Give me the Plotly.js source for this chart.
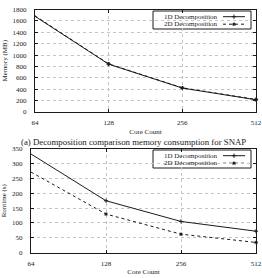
<!DOCTYPE html>
<html>
<head>
<meta charset="utf-8">
<script src="https://cdn.plot.ly/plotly-3.0.1.min.js"></script>
<style>
  html, body { margin: 0; padding: 0; background: #fff; }
  #chart { width: 262px; height: 278px; }
</style>
</head>
<body>
<div id="chart"></div>
<script>
// Core counts on the shared x axis
const cores = [64, 128, 256, 512];
const coreTicks = ['64', '128', '256', '512'];

// (a) memory consumption, MB
const mem1D = [1680, 840, 420, 215];
const mem2D = [1690, 845, 425, 220];

// (b) runtime, seconds
const rt1D = [333, 175, 105, 72];
const rt2D = [272, 130, 62, 34];

const seriesNames = ['1D Decomposition', '2D Decomposition'];
const memTicks = [0, 200, 400, 600, 800, 1000, 1200, 1400, 1600, 1800];
const rtTicks = [0, 50, 100, 150, 200, 250, 300, 350];

const caption = '(a) Decomposition comparison memory consumption for SNAP';
const xTitle = 'Core Count';
const memTitle = 'Memory (MB)';
const rtTitle = 'Runtime (s)';

const W = 262, H = 278;
const serif = 'Liberation Serif, Times New Roman, serif';
const ink = '#1a1a1a';

const style1D = { line: { color: ink, width: 1, dash: 'solid' },
                  marker: { symbol: 'cross-thin', size: 3, color: ink, line: { color: ink, width: 1 } } };
const style2D = { line: { color: ink, width: 1, dash: 'dot' },
                  marker: { symbol: 'asterisk', size: 3, color: ink, line: { color: ink, width: 1 } } };

function trace(y, style, xa, ya, name) {
  return { x: cores, y: y, name: name, type: 'scatter', mode: 'lines+markers',
           xaxis: xa, yaxis: ya, line: style.line, marker: style.marker,
           showlegend: false, cliponaxis: false };
}

const data = [
  trace(mem1D, style1D, 'x', 'y', seriesNames[0]),
  trace(mem2D, style2D, 'x', 'y', seriesNames[1]),
  trace(rt1D, style1D, 'x2', 'y2', seriesNames[0]),
  trace(rt2D, style2D, 'x2', 'y2', seriesNames[1])
];

// pixel helpers for paper coordinates
const px = v => v / W;
const py = v => 1 - v / H;

function xAxis(domain, anchor) {
  return {
    type: 'log', domain: domain, anchor: anchor,
    range: [Math.log10(cores[0]), Math.log10(cores[cores.length - 1])],
    tickvals: cores, ticktext: coreTicks,
    ticks: 'inside', ticklen: 3, tickcolor: ink, tickwidth: 1,
    showline: true, linecolor: ink, linewidth: 1, mirror: 'ticks',
    showgrid: true, gridcolor: '#c4c4c4', gridwidth: 1, griddash: 'dot',
    zeroline: false, ticklabelstandoff: 4,
    tickfont: { family: serif, size: 7, color: ink },
    title: { text: xTitle, font: { family: serif, size: 7, color: ink }, standoff: 2 },
    automargin: false, fixedrange: true
  };
}

function yAxis(domain, anchor, ticks, title, standoff) {
  return {
    domain: domain, anchor: anchor,
    range: [ticks[0], ticks[ticks.length - 1]],
    tickvals: ticks,
    ticks: 'inside', ticklen: 3, tickcolor: ink, tickwidth: 1,
    showline: true, linecolor: ink, linewidth: 1, mirror: 'ticks',
    showgrid: true, gridcolor: '#c4c4c4', gridwidth: 1, griddash: 'dot',
    zeroline: false, ticklabelstandoff: 6,
    tickfont: { family: serif, size: 7, color: ink },
    title: { text: title, font: { family: serif, size: 7, color: ink }, standoff: standoff },
    automargin: false, fixedrange: true
  };
}

// Legend drawn as text + line samples in the upper right of each panel
const annotations = [];
const shapes = [];
const legendMarkers = [];
function addLegend(top, styles) {
  const box = { x0: 153, x1: 251, y0: top, y1: top + 18 };
  shapes.push({ type: 'rect', xref: 'paper', yref: 'paper',
                x0: px(box.x0), x1: px(box.x1), y0: py(box.y0), y1: py(box.y1),
                line: { color: ink, width: 1 }, fillcolor: '#fff', layer: 'between' });
  seriesNames.forEach((name, i) => {
    const rowY = top + 5.7 + i * 7.5;
    annotations.push({ xref: 'paper', yref: 'paper', x: px(220), y: py(rowY),
                       xanchor: 'right', yanchor: 'middle', showarrow: false,
                       text: name, font: { family: serif, size: 7, color: ink } });
    shapes.push({ type: 'line', xref: 'paper', yref: 'paper',
                  x0: px(223), x1: px(245), y0: py(rowY), y1: py(rowY),
                  line: { color: ink, width: 1, dash: styles[i].line.dash }, layer: 'between' });
    legendMarkers.push({ x: [px(234)], y: [py(rowY)], type: 'scatter', mode: 'markers',
                         xaxis: 'x3', yaxis: 'y3', marker: styles[i].marker, showlegend: false,
                         hoverinfo: 'skip', cliponaxis: false });
  });
}

addLegend(11, [style1D, style2D]);
addLegend(150, [style1D, style2D]);

annotations.push({ xref: 'paper', yref: 'paper', x: px(133), y: py(141.5),
                   xanchor: 'center', yanchor: 'middle', showarrow: false,
                   text: caption, font: { family: serif, size: 8.8, color: ink } });

const layout = {
  width: W, height: H,
  margin: { l: 0, r: 0, t: 0, b: 0, pad: 0 },
  paper_bgcolor: '#fff', plot_bgcolor: 'rgba(0,0,0,0)',
  showlegend: false,
  xaxis: xAxis([px(35), px(256)], 'y'),
  yaxis: yAxis([py(112), py(9.5)], 'x', memTicks, memTitle, 4),
  xaxis2: xAxis([px(31), px(256)], 'y2'),
  yaxis2: yAxis([py(252.5), py(149)], 'x2', rtTicks, rtTitle, 8),
  // full-page overlay used only to place the legend glyphs
  xaxis3: { domain: [0, 1], range: [0, 1], visible: false, anchor: 'y3', fixedrange: true, showgrid: false, zeroline: false },
  yaxis3: { domain: [0, 1], range: [0, 1], visible: false, anchor: 'x3', fixedrange: true, showgrid: false, zeroline: false },
  annotations: annotations,
  shapes: shapes
};

Plotly.newPlot('chart', data.concat(legendMarkers), layout, { displayModeBar: false, staticPlot: true });
</script>
</body>
</html>
